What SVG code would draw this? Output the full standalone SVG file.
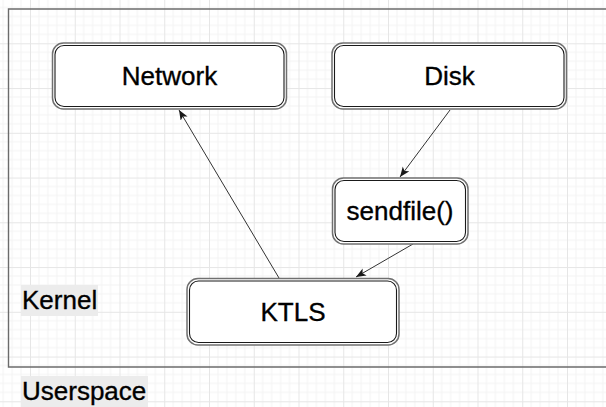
<svg xmlns="http://www.w3.org/2000/svg" width="606" height="407" viewBox="0 0 606 407">
  <style>
    .lbl { font-family: "Liberation Sans", Arial, Helvetica, sans-serif; font-size: 26px; fill: #000; stroke: #000; stroke-width: 0.35; }
    .mid { text-anchor: middle; }
    .outer { fill: #fff; stroke: #707070; stroke-width: 1.5; }
    .inner { fill: none; stroke: #1a1a1a; stroke-width: 1.1; }
    .edge { fill: none; stroke: #333; stroke-width: 1; }
    .tag { fill: #ececec; }
  </style>
  <defs>
    <pattern id="grid" patternUnits="userSpaceOnUse" x="30" y="-1.45" width="44.75" height="44.75">
      <path d="M8.95 0V44.75M17.9 0V44.75M26.85 0V44.75M35.8 0V44.75M0 8.95H44.75M0 17.9H44.75M0 26.85H44.75M0 35.8H44.75" stroke="#f4f4f4" stroke-width="1" fill="none"/>
      <path d="M0.5 0V44.75M0 0.5H44.75" stroke="#e6e6e6" stroke-width="1" fill="none"/>
    </pattern>
    <marker id="arrow" markerUnits="userSpaceOnUse" markerWidth="12" markerHeight="10" refX="10" refY="4" orient="auto">
      <path d="M0,0 L10,4 L0,8 L2.5,4 Z" fill="#1a1a1a"/>
    </marker>
  </defs>

  <!-- background grid -->
  <rect width="606" height="407" fill="#fff"/>
  <rect width="606" height="407" fill="url(#grid)"/>

  <!-- kernel region frame (open on the right) -->
  <path d="M610 9H8.5V367H610" fill="none" stroke="#6b6b6b" stroke-width="1.4"/>

  <!-- region labels -->
  <g id="kernel-label">
    <rect class="tag" x="21" y="285" width="77" height="31"/>
    <text class="lbl" x="22" y="309">Kernel</text>
  </g>
  <g id="userspace-label">
    <rect class="tag" x="21" y="376" width="127" height="31"/>
    <text class="lbl" x="22" y="400">Userspace</text>
  </g>

  <!-- connectors -->
  <g id="connectors">
    <line class="edge" x1="279" y1="278" x2="179" y2="110" marker-end="url(#arrow)"/>
    <line class="edge" x1="450" y1="110" x2="400" y2="177" marker-end="url(#arrow)"/>
    <line class="edge" x1="413" y1="244" x2="356" y2="277" marker-end="url(#arrow)"/>
  </g>

  <!-- nodes -->
  <g id="network">
    <rect class="outer" x="52.5" y="43" width="234" height="66" rx="11"/>
    <rect class="inner" x="55" y="45.5" width="229" height="61" rx="9"/>
    <text class="lbl mid" x="169.5" y="85">Network</text>
  </g>
  <g id="disk">
    <rect class="outer" x="332" y="43" width="234.5" height="66" rx="11"/>
    <rect class="inner" x="334.5" y="45.5" width="229.5" height="61" rx="9"/>
    <text class="lbl mid" x="449.5" y="85">Disk</text>
  </g>
  <g id="sendfile">
    <rect class="outer" x="332.5" y="178" width="135.5" height="66" rx="11"/>
    <rect class="inner" x="335" y="180.5" width="130.5" height="61" rx="9"/>
    <text class="lbl mid" x="400" y="220">sendfile()</text>
  </g>
  <g id="ktls">
    <rect class="outer" x="187" y="278.5" width="212" height="66.5" rx="11"/>
    <rect class="inner" x="189.5" y="281" width="207" height="61.5" rx="9"/>
    <text class="lbl mid" x="293" y="320.5">KTLS</text>
  </g>
</svg>
